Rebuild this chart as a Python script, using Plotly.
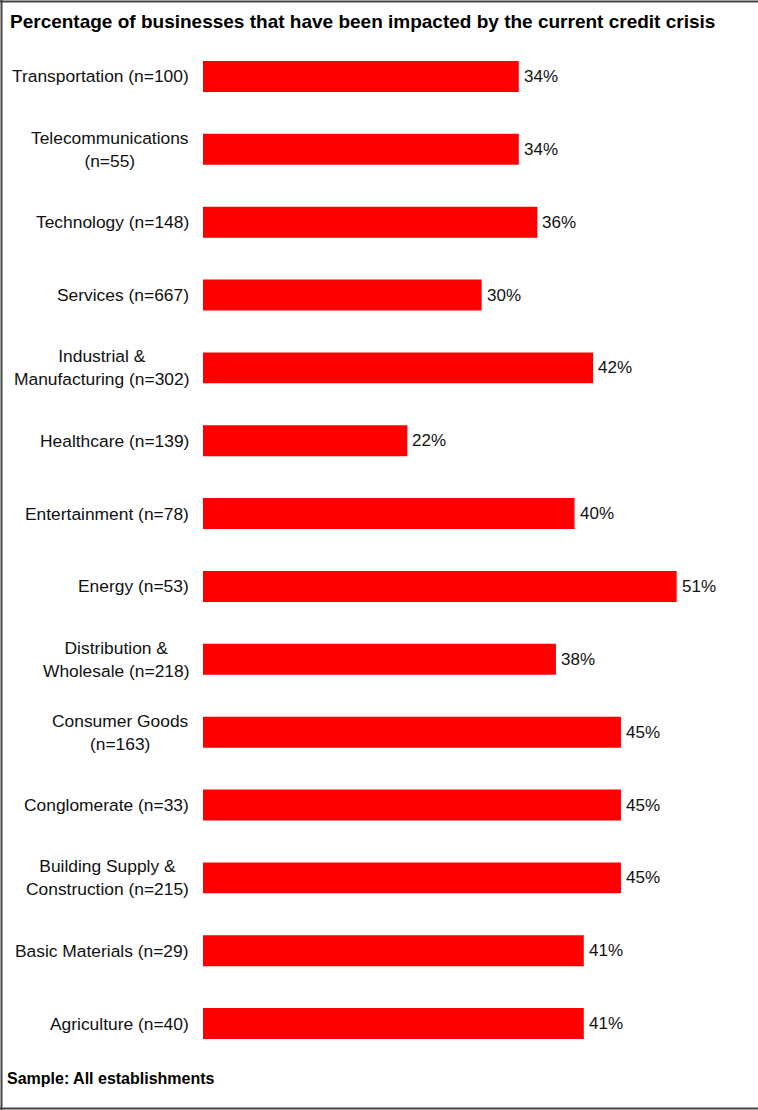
import plotly.graph_objects as go

# Industry categories (top to bottom) and share of businesses impacted
categories = [
    "Transportation (n=100)",
    "Telecommunications<br>(n=55)",
    "Technology (n=148)",
    "Services (n=667)",
    "Industrial &<br>Manufacturing (n=302)",
    "Healthcare (n=139)",
    "Entertainment (n=78)",
    "Energy (n=53)",
    "Distribution &<br>Wholesale (n=218)",
    "Consumer Goods<br>(n=163)",
    "Conglomerate (n=33)",
    "Building Supply &<br>Construction (n=215)",
    "Basic Materials (n=29)",
    "Agriculture (n=40)",
]
percent_impacted = [34, 34, 36, 30, 42, 22, 40, 51, 38, 45, 45, 45, 41, 41]

title_text = "Percentage of businesses that have been impacted by the current credit crisis"
footer_text = "Sample: All establishments"

W, H = 758, 1110
ML, MR, MT, MB = 203, 30, 40, 50
PW, PH = W - ML - MR, H - MT - MB
FONT = "Liberation Sans, Arial, sans-serif"


def px_x(px):
    return (px - ML) / PW


def px_y(py):
    return (H - MB - py) / PH


ypos = list(range(len(categories)))

fig = go.Figure(
    go.Bar(
        x=percent_impacted,
        y=ypos,
        orientation="h",
        marker=dict(color="#ff0000", line=dict(width=0)),
        hoverinfo="skip",
    )
)

# Category labels, centred per line and right-aligned to the bars
annotations = [
    dict(
        x=0, y=i, xref="paper", yref="y",
        text=cat, showarrow=False,
        xanchor="right", yanchor="middle", align="center",
        xshift=-12,
        font=dict(family=FONT, size=17.4, color="#111111"),
    )
    for i, cat in enumerate(categories)
]
# Value labels just past the bar ends
annotations += [
    dict(
        x=v, y=i, xref="x", yref="y",
        text=f"{v}%", showarrow=False,
        xanchor="left", yanchor="middle", xshift=3,
        font=dict(family=FONT, size=17, color="#111111"),
    )
    for i, v in enumerate(percent_impacted)
]
annotations.append(dict(
    x=px_x(8), y=px_y(21), xref="paper", yref="paper",
    text=f"<b>{title_text}</b>", showarrow=False,
    xanchor="left", yanchor="middle",
    font=dict(family=FONT, size=19, color="#000000"),
))
annotations.append(dict(
    x=px_x(5), y=px_y(1078), xref="paper", yref="paper",
    text=f"<b>{footer_text}</b>", showarrow=False,
    xanchor="left", yanchor="middle",
    font=dict(family=FONT, size=16, color="#000000"),
))

# Frame lines: top, left and bottom
frame = dict(color="#444444", width=2)
shapes = [
    dict(type="line", xref="paper", yref="paper",
         x0=px_x(0), x1=px_x(W), y0=px_y(1.5), y1=px_y(1.5), line=frame),
    dict(type="line", xref="paper", yref="paper",
         x0=px_x(1.5), x1=px_x(1.5), y0=px_y(0), y1=px_y(H), line=frame),
    dict(type="line", xref="paper", yref="paper",
         x0=px_x(0), x1=px_x(W), y0=px_y(1108.5), y1=px_y(1108.5), line=frame),
]

fig.update_layout(
    width=W, height=H,
    margin=dict(l=ML, r=MR, t=MT, b=MB, pad=0),
    paper_bgcolor="white", plot_bgcolor="white",
    bargap=0.575,
    showlegend=False,
    annotations=annotations,
    shapes=shapes,
    xaxis=dict(range=[0, PW / 9.288], visible=False, fixedrange=True),
    yaxis=dict(range=[len(categories) - 0.5, -0.5], visible=False, fixedrange=True),
)

fig.write_html("out.html", config={"displayModeBar": False})
